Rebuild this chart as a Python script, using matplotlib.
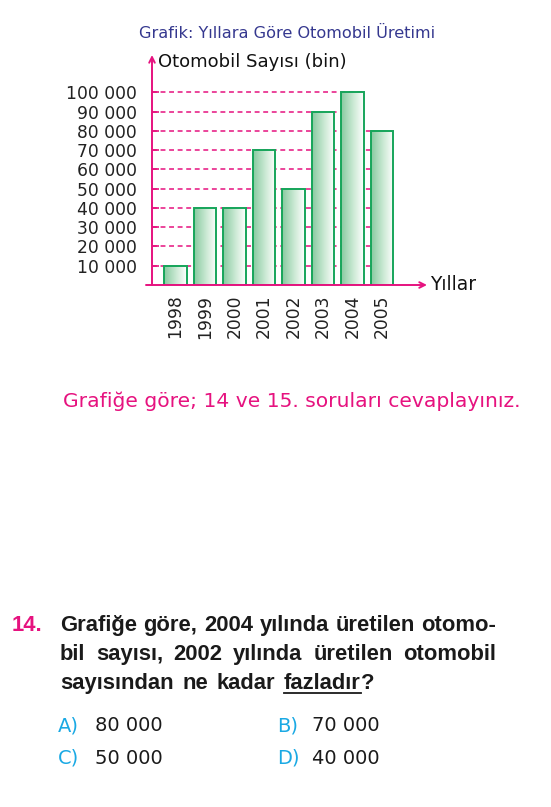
import matplotlib
matplotlib.use("Agg")
import matplotlib.pyplot as plt
import numpy as np
from matplotlib.colors import LinearSegmentedColormap
from matplotlib.patches import Rectangle

years = ["1998", "1999", "2000", "2001", "2002", "2003", "2004", "2005"]
values = [10000, 40000, 40000, 70000, 50000, 90000, 100000, 80000]
yticks = [10000, 20000, 30000, 40000, 50000, 60000, 70000, 80000, 90000, 100000]
ytick_labels = ["10 000", "20 000", "30 000", "40 000", "50 000",
                "60 000", "70 000", "80 000", "90 000", "100 000"]
title = "Grafik: Yıllara Göre Otomobil Üretimi"
ylabel = "Otomobil Sayısı (bin)"
xlabel = "Yıllar"
instruction = "Grafiğe göre; 14 ve 15. soruları cevaplayınız."
q_num = "14."
q_lines = ["Grafiğe göre, 2004 yılında üretilen otomo-",
           "bil sayısı, 2002 yılında üretilen otomobil",
           "sayısından ne kadar"]
q_under = "fazladır"
q_end = "?"
opt_letters = ["A)", "B)", "C)", "D)"]
opt_values = ["80 000", "70 000", "50 000", "40 000"]

PINK = "#e6127f"
NAVY = "#35388f"
GREEN = "#16a55a"
BLUE = "#1aa9e4"
FONT = "DejaVu Sans"
QFONT = "Liberation Sans"

W, H = 551, 807
fig = plt.figure(figsize=(W / 100, H / 100), dpi=100)

def px_axes(l, t, r, b):
    return [l / W, 1 - b / H, (r - l) / W, (b - t) / H]

ax = fig.add_axes(px_axes(152, 55, 427, 285))
step = 29.5
c0 = 175.5
xl = (152 - c0) / step
xr = (427 - c0) / step
px_per_val = (285 - 92.3) / 100000
ytop = (285 - 55) / px_per_val

x = np.arange(len(years))
bw = 0.75

cmap = LinearSegmentedColormap.from_list("g", ["#88caa0", "#c6e7d0", "#ffffff"])
grad = np.linspace(0, 1, 64).reshape(1, -1)

for v in yticks:
    idx = [i for i, h in enumerate(values) if h >= v]
    xend = x[idx[-1]] + bw / 2 if idx else xr
    ax.plot([xl, xend], [v, v], color=PINK, lw=1.1, ls=(0, (3.2, 2.4)), zorder=1)

for xi, h in zip(x, values):
    ax.imshow(grad, cmap=cmap, extent=[xi - bw / 2, xi + bw / 2, 0, h],
              aspect="auto", zorder=2, interpolation="bilinear")
    ax.add_patch(Rectangle((xi - bw / 2, 0), bw, h, fill=False,
                           edgecolor=GREEN, lw=1.4, zorder=3))
ax.set_xlim(xl, xr)
ax.set_ylim(0, ytop)

for s in ["top", "right", "bottom", "left"]:
    ax.spines[s].set_visible(False)

ax.set_yticks(yticks)
ax.set_yticklabels(ytick_labels, fontsize=12.3, family=FONT, color="#222222")
ax.tick_params(axis="y", direction="in", length=5, width=1.2, color=PINK, pad=11)
ax.set_xticks(x)
ax.set_xticklabels(years, rotation=90, fontsize=12.3, family=FONT, color="#222222",
                   va="top")
ax.tick_params(axis="x", length=0, pad=7)

ax.annotate("", xy=(0, 1.0), xytext=(0, 0), xycoords="axes fraction",
            arrowprops=dict(arrowstyle="->", color=PINK, lw=1.4,
                            shrinkA=0, shrinkB=0), annotation_clip=False)
ax.annotate("", xy=(1.0, 0), xytext=(-6 / 275, 0), xycoords="axes fraction",
            arrowprops=dict(arrowstyle="->", color=PINK, lw=1.4,
                            shrinkA=0, shrinkB=0), annotation_clip=False)

def ft(xp, yp, s, **kw):
    return fig.text(xp / W, 1 - yp / H, s, **kw)

ft(287, 33, title, ha="center", va="center", fontsize=11.6, color=NAVY, family=FONT)
ft(158, 62, ylabel, ha="left", va="center", fontsize=13, color="#111111", family=FONT)
ft(430, 284, xlabel, ha="left", va="center", fontsize=13.5, color="#111111", family=FONT)
ft(292, 401, instruction, ha="center", va="center", fontsize=14.6, color=PINK, family=FONT)

QS = 15.8
line_y = [631, 660, 689]
ft(12, line_y[0], q_num, ha="left", va="baseline", fontsize=QS, color=PINK,
   weight="bold", family=QFONT)

r = fig.canvas.get_renderer()

def word_width(w):
    t = fig.text(0, 0, w, fontsize=QS, weight="bold", family=QFONT)
    wd = t.get_window_extent(r).width
    t.remove()
    return wd

space_w = word_width("a b") - word_width("ab")
left, right = 60, 496
for k, (yy, ln) in enumerate(zip(line_y, q_lines)):
    words = ln.split(" ")
    widths = [word_width(w) for w in words]
    if k < 2:
        gap = (right - left - sum(widths)) / (len(words) - 1)
    else:
        gap = space_w * 1.4
    xp = left
    for w, wd in zip(words, widths):
        ft(xp, yy, w, ha="left", va="baseline", fontsize=QS, color="#1a1a1a",
           weight="bold", family=QFONT)
        xp += wd + gap
    if k == 2:
        uw = word_width(q_under)
        ft(xp, yy, q_under, ha="left", va="baseline", fontsize=QS, color="#1a1a1a",
           weight="bold", family=QFONT)
        ft(xp + uw, yy, q_end, ha="left", va="baseline", fontsize=QS, color="#1a1a1a",
           weight="bold", family=QFONT)
        yline = 1 - (yy + 3.5) / H
        fig.add_artist(plt.Line2D([xp / W, (xp + uw) / W], [yline, yline],
                                  color="#1a1a1a", lw=1.3, transform=fig.transFigure))

opt_pos = [(58, 95, 731), (277, 312, 731), (58, 95, 764), (277, 312, 764)]
for (lx, vx, yy), L, V in zip(opt_pos, opt_letters, opt_values):
    ft(lx, yy, L, ha="left", va="baseline", fontsize=14, color=BLUE, family=FONT)
    ft(vx, yy, V, ha="left", va="baseline", fontsize=14, color="#1a1a1a", family=FONT)

fig.savefig("out.png", dpi=100)
